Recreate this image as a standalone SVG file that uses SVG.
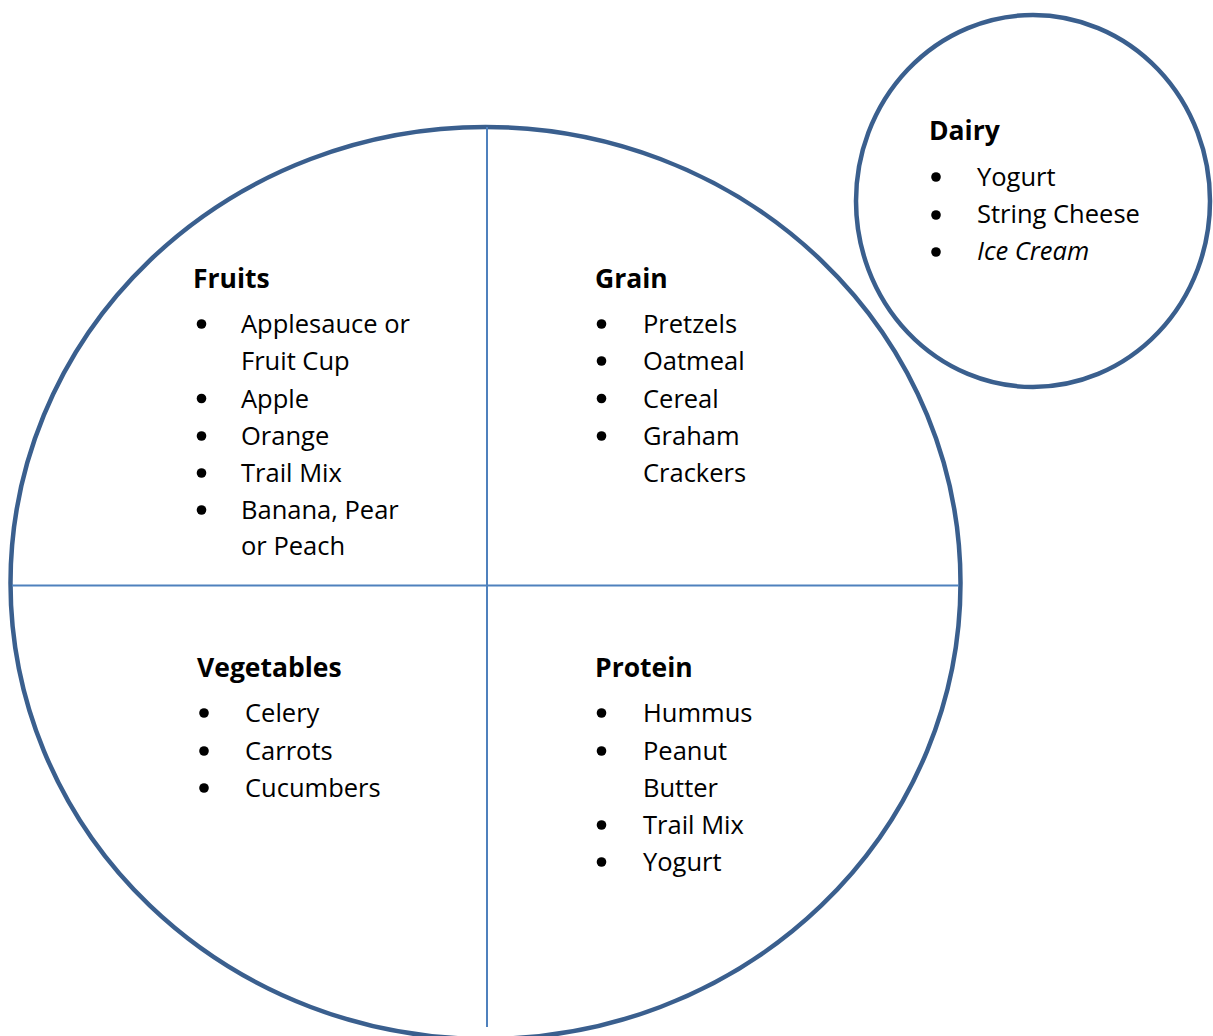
<svg xmlns="http://www.w3.org/2000/svg" width="1213" height="1036" viewBox="0 0 1213 1036">
<style>
.ring{fill:none;stroke:#3a5f8e;stroke-width:4.5}
.div{stroke:#4f81bd;stroke-width:2}
text{font-family:"Open Sans","Noto Sans",sans-serif;font-size:25.5px;fill:#000}
.h{font-weight:bold;font-size:26.5px}
.i{font-style:italic}
.b{fill:#000}
</style>
<rect width="1213" height="1036" fill="#fff"/>
<g id="plate">
<ellipse class="ring" cx="485.5" cy="583" rx="475" ry="456"/>
</g>
<g id="connectors">
<line class="div" x1="487" y1="127" x2="487" y2="1027"/>
<line class="div" x1="12" y1="585.5" x2="959" y2="585.5"/>
</g>
<g id="fruits">
<text class="h" x="193" y="288">Fruits</text>
<circle class="b" cx="201.5" cy="324" r="4.8"/><text x="241" y="333">Applesauce or</text>
<text x="241" y="370">Fruit Cup</text>
<circle class="b" cx="201.5" cy="398.5" r="4.8"/><text x="241" y="407.5">Apple</text>
<circle class="b" cx="201.5" cy="436" r="4.8"/><text x="241" y="445">Orange</text>
<circle class="b" cx="201.5" cy="473" r="4.8"/><text x="241" y="482">Trail Mix</text>
<circle class="b" cx="201.5" cy="510" r="4.8"/><text x="241" y="519">Banana, Pear</text>
<text x="241" y="555">or Peach</text>
</g>
<g id="grain">
<text class="h" x="595" y="288">Grain</text>
<circle class="b" cx="601.5" cy="324" r="4.8"/><text x="643" y="333">Pretzels</text>
<circle class="b" cx="601.5" cy="361" r="4.8"/><text x="643" y="370">Oatmeal</text>
<circle class="b" cx="601.5" cy="398.5" r="4.8"/><text x="643" y="407.5">Cereal</text>
<circle class="b" cx="601.5" cy="436" r="4.8"/><text x="643" y="445">Graham</text>
<text x="643" y="482">Crackers</text>
</g>
<g id="vegetables">
<text class="h" x="197" y="677">Vegetables</text>
<circle class="b" cx="204" cy="713" r="4.8"/><text x="245" y="722">Celery</text>
<circle class="b" cx="204" cy="751" r="4.8"/><text x="245" y="760">Carrots</text>
<circle class="b" cx="204" cy="788" r="4.8"/><text x="245" y="797">Cucumbers</text>
</g>
<g id="protein">
<text class="h" x="595" y="677">Protein</text>
<circle class="b" cx="601.5" cy="713" r="4.8"/><text x="643" y="722">Hummus</text>
<circle class="b" cx="601.5" cy="751" r="4.8"/><text x="643" y="760">Peanut</text>
<text x="643" y="797">Butter</text>
<circle class="b" cx="601.5" cy="825" r="4.8"/><text x="643" y="834">Trail Mix</text>
<circle class="b" cx="601.5" cy="862" r="4.8"/><text x="643" y="871">Yogurt</text>
</g>
<g id="dairy">
<ellipse class="ring" cx="1033" cy="201" rx="177" ry="186"/>
<text class="h" x="929" y="140">Dairy</text>
<circle class="b" cx="936" cy="177" r="4.8"/><text x="977" y="186">Yogurt</text>
<circle class="b" cx="936" cy="215" r="4.8"/><text x="977" y="223">String Cheese</text>
<circle class="b" cx="936" cy="252" r="4.8"/><text class="i" x="977" y="260">Ice Cream</text>
</g>
</svg>
